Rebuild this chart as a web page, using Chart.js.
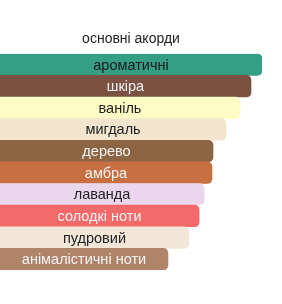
<!DOCTYPE html>
<html>
<head>
<meta charset="utf-8">
<script src="https://cdn.jsdelivr.net/npm/chart.js@4"></script>
<style>
  html, body { margin: 0; padding: 0; background: #fff; }
  #wrap { width: 282px; height: 304px; }
</style>
</head>
<body>
<div id="wrap"><canvas id="myChart"></canvas></div>
<script>
// accord names and their strength (percent of the strongest)
const accords = ['ароматичні', 'шкіра', 'ваніль', 'мигдаль', 'дерево', 'амбра', 'лаванда', 'солодкі ноти', 'пудровий', 'анімалістичні ноти'];
const strength = [100, 95.8, 91.6, 86.3, 81.3, 80.9, 77.9, 76, 72.1, 64.1];
const barColors = ['#379e86', '#7b5142', '#fffcc5', '#f2e6ce', '#8c6542', '#c87042', '#ead7ee', '#f46a6b', '#f2e6d9', '#b08469'];
const textColors = ['#1a1a1a', '#f4f4f4', '#222', '#222', '#f4f4f4', '#f4f4f4', '#222', '#f4f4f4', '#222', '#f4f4f4'];

// write the accord name in the middle of each bar
const barLabels = {
  id: 'barLabels',
  afterDatasetsDraw(chart) {
    const ctx = chart.ctx;
    const meta = chart.getDatasetMeta(0);
    ctx.save();
    ctx.font = '14.5px "Liberation Sans", Arial, sans-serif';
    ctx.textAlign = 'center';
    ctx.textBaseline = 'middle';
    meta.data.forEach((bar, i) => {
      ctx.fillStyle = textColors[i];
      ctx.fillText(accords[i], (bar.base + bar.x) / 2, bar.y + 1);
    });
    ctx.restore();
  }
};

document.addEventListener('DOMContentLoaded', function () {
  const ctx = document.getElementById('myChart').getContext('2d');
  new Chart(ctx, {
    type: 'bar',
    data: {
      labels: accords,
      datasets: [{
        data: strength,
        backgroundColor: barColors,
        borderWidth: 0,
        borderSkipped: 'start',
        borderRadius: { topRight: 5, bottomRight: 5, topLeft: 0, bottomLeft: 0 },
        barPercentage: 1,
        categoryPercentage: 1
      }]
    },
    options: {
      indexAxis: 'y',
      responsive: true,
      maintainAspectRatio: false,
      animation: false,
      layout: { padding: { left: 0, right: 20, top: 0, bottom: 34 } },
      plugins: {
        legend: { display: false },
        tooltip: { enabled: false },
        title: {
          display: true,
          text: 'основні акорди',
          color: '#222',
          font: { family: '"Liberation Sans", Arial, sans-serif', size: 14, weight: 'normal' },
          padding: { top: 31, bottom: 6 }
        }
      },
      scales: {
        x: { display: false, min: 0, max: 100 },
        y: { display: false }
      }
    },
    plugins: [barLabels]
  });
});
</script>
</body>
</html>
